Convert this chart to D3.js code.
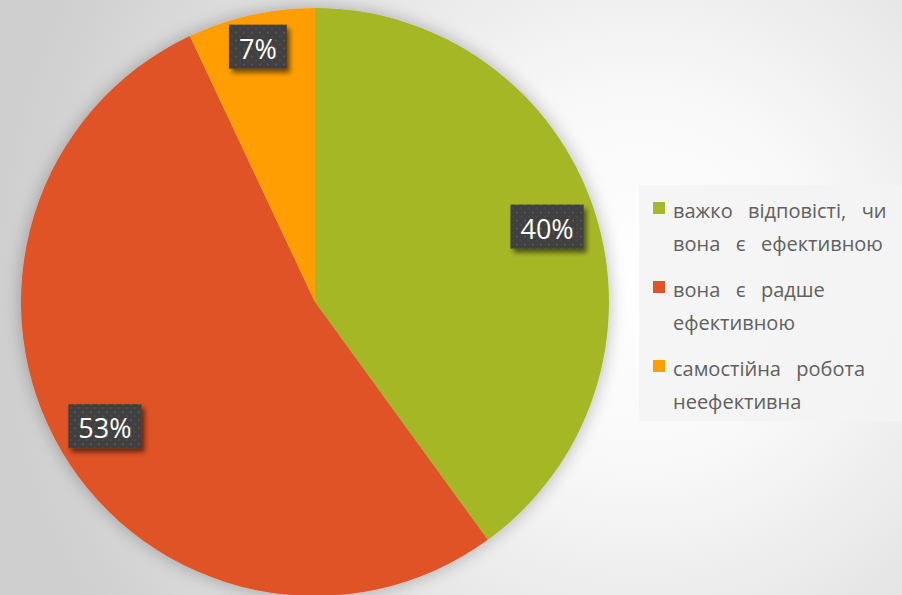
<!DOCTYPE html>
<html>
<head>
<meta charset="utf-8">
<script src="https://cdn.jsdelivr.net/npm/d3@7"></script>
<style>
  html, body { margin: 0; padding: 0; overflow: hidden; }
  svg { display: block; }
</style>
</head>
<body>
<svg id="chart" width="902" height="595"></svg>
<script>
// ---- data ----
const categories = [
  ["важко  відповісті,  чи", "вона  є  ефективною"],
  ["вона  є  радше", "ефективною"],
  ["самостійна  робота", "неефективна"]
];
const values = [40, 53, 7];
const valueLabels = ["40%", "53%", "7%"];

// ---- styles / layout ----
const colors = ["#A6B727", "#DF5327", "#FE9E00"];
const W = 902, H = 595;
const cx = 315, cy = 302, R = 294;
const labelRadiusFactor = [0.83, 0.83, 0.89];

const svg = d3.select("#chart");
const defs = svg.append("defs");

// background radial gradient
const bg = defs.append("radialGradient").attr("id", "bgGrad")
  .attr("gradientUnits", "userSpaceOnUse")
  .attr("cx", 640).attr("cy", 280).attr("r", 640);
bg.append("stop").attr("offset", "0%").attr("stop-color", "#ffffff");
bg.append("stop").attr("offset", "30%").attr("stop-color", "#f8f8f8");
bg.append("stop").attr("offset", "100%").attr("stop-color", "#cfcfcf");

// pie shadow
const ps = defs.append("filter").attr("id", "pieShadow")
  .attr("x", "-20%").attr("y", "-20%").attr("width", "140%").attr("height", "140%");
ps.append("feGaussianBlur").attr("in", "SourceAlpha").attr("stdDeviation", 9).attr("result", "b");
ps.append("feComponentTransfer").attr("in", "b").attr("result", "bs")
  .append("feFuncA").attr("type", "linear").attr("slope", 0.28);
const pm = ps.append("feMerge");
pm.append("feMergeNode").attr("in", "bs");
pm.append("feMergeNode").attr("in", "SourceGraphic");

// label shadow
const ls = defs.append("filter").attr("id", "lblShadow")
  .attr("x", "-30%").attr("y", "-30%").attr("width", "170%").attr("height", "170%");
ls.append("feGaussianBlur").attr("in", "SourceAlpha").attr("stdDeviation", 2.5).attr("result", "b");
ls.append("feOffset").attr("in", "b").attr("dx", 3).attr("dy", 4).attr("result", "o");
ls.append("feComponentTransfer").attr("in", "o").attr("result", "os")
  .append("feFuncA").attr("type", "linear").attr("slope", 0.55);
const lm = ls.append("feMerge");
lm.append("feMergeNode").attr("in", "os");
lm.append("feMergeNode").attr("in", "SourceGraphic");

// dot texture
const pat = defs.append("pattern").attr("id", "dots")
  .attr("patternUnits", "userSpaceOnUse").attr("width", 8).attr("height", 8);
pat.append("rect").attr("width", 8).attr("height", 8).attr("fill", "#3f3f3f");
pat.append("rect").attr("x", 1).attr("y", 1).attr("width", 2).attr("height", 2).attr("fill", "#565656");
pat.append("rect").attr("x", 5).attr("y", 5).attr("width", 2).attr("height", 2).attr("fill", "#4c4c4c");

svg.append("rect").attr("width", W).attr("height", H).attr("fill", "url(#bgGrad)");

// ---- pie ----
const pie = d3.pie().sort(null).value(d => d)(values);
const arc = d3.arc().innerRadius(0).outerRadius(R);

const g = svg.append("g").attr("transform", `translate(${cx},${cy})`);
g.append("g").attr("filter", "url(#pieShadow)")
  .selectAll("path").data(pie).join("path")
  .attr("d", arc)
  .attr("fill", (d, i) => colors[i]);

// ---- data labels ----
const lblG = g.selectAll("g.lbl").data(pie).join("g").attr("class", "lbl");
lblG.each(function(d, i) {
  const lr = R * labelRadiusFactor[i];
  const c = d3.arc().innerRadius(lr).outerRadius(lr).centroid(d);
  const sel = d3.select(this).attr("transform", `translate(${c[0]},${c[1]})`);
  const t = sel.append("text")
    .attr("text-anchor", "middle")
    .attr("y", 12)
    .attr("font-family", "'Open Sans', sans-serif")
    .attr("font-size", 27)
    .attr("fill", "#ffffff")
    .text(valueLabels[i]);
  const w = t.node().getComputedTextLength() + 20;
  const h = 44;
  sel.insert("rect", "text")
    .attr("x", -w / 2).attr("y", -h / 2)
    .attr("width", w).attr("height", h)
    .attr("fill", "url(#dots)")
    .attr("filter", "url(#lblShadow)");
});

// ---- legend ----
const legend = svg.append("g");
legend.append("rect")
  .attr("x", 639).attr("y", 185).attr("width", W - 639).attr("height", 236)
  .attr("fill", "#f3f3f3").attr("fill-opacity", 0.85);

const item = legend.selectAll("g.item").data(categories).join("g")
  .attr("class", "item")
  .attr("transform", (d, i) => `translate(653, ${202 + i * 79})`);
item.append("rect").attr("width", 12).attr("height", 12)
  .attr("fill", (d, i) => colors[i]);
item.each(function(lines) {
  const t = d3.select(this).append("text")
    .attr("font-family", "'Open Sans', sans-serif")
    .attr("font-size", 20)
    .attr("fill", "#606060")
    .attr("word-spacing", 2.5)
    .attr("xml:space", "preserve")
    .style("white-space", "pre");
  lines.forEach((ln, k) => {
    t.append("tspan").attr("x", 20).attr("y", 16 + k * 33).text(ln);
  });
});
</script>
</body>
</html>
